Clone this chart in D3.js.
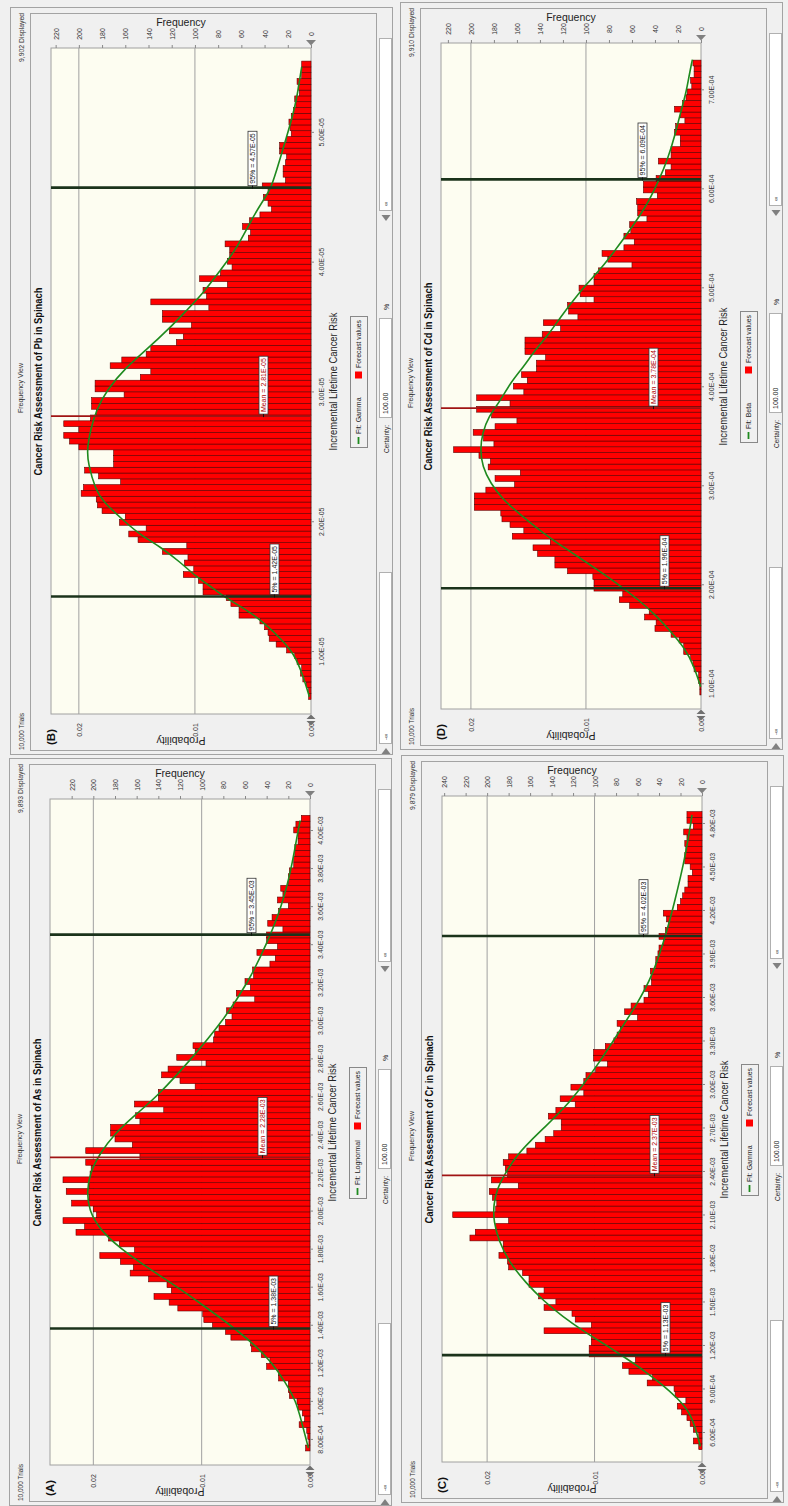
<!DOCTYPE html>
<html><head><meta charset="utf-8">
<script src="https://cdn.jsdelivr.net/npm/d3@7"></script>
<style>
body{margin:0;background:#f0f0f0}
svg{display:block}
text{font-family:"Liberation Sans",Arial,sans-serif}
</style>
</head><body>
<svg id="c" width="788" height="1506"></svg>
<script>
// ---------------- DATA ----------------
// Histogram counts (frequency per bin, low values first)
const countsA = [4,1,2,3,10,5,7,11,12,19,
 20,20,29,29,40,37,45,54,55,73,
 78,90,98,99,122,130,144,128,132,149,
 166,163,175,194,162,176,186,216,208,228,
 197,200,220,204,225,204,228,203,202,207,
 157,207,164,180,184,184,157,161,135,162,
 140,140,106,120,137,131,96,123,106,108,
 89,88,84,78,72,77,71,51,68,55,
 60,52,53,37,32,49,30,40,40,25,
 39,35,29,20,30,25,27,20,20,19,
 15,15,14,14,11,11,15,13,8];
const countsB = [2,2,4,7,9,8,12,14,21,30,
 36,37,40,44,62,62,69,73,93,93,
 97,110,101,109,106,128,107,149,157,142,
 165,160,180,184,185,198,196,164,183,195,
 170,170,170,200,208,213,200,213,190,185,
 189,189,161,186,186,147,138,173,163,142,
 138,116,110,122,103,128,128,88,138,90,
 93,72,96,78,68,72,70,70,74,54,
 52,59,53,44,34,37,41,37,42,22,
 24,24,22,21,27,27,21,17,18,19,
 17,15,13,14,10,11,12,8,8,8];
const countsC = [3,8,3,8,11,14,19,23,15,25,
 26,51,46,68,74,62,105,105,103,103,
 147,103,118,121,147,136,152,147,161,161,
 167,180,181,189,185,185,216,211,192,180,
 232,192,191,195,198,171,196,181,183,185,
 180,163,155,146,138,131,131,143,136,118,
 132,110,122,110,108,99,88,101,101,90,
 82,79,76,79,60,72,66,54,50,54,
 47,47,48,43,43,41,40,36,40,34,
 31,33,36,23,20,18,16,13,13,9,
 11,16,16,15,16,14,17,8,14,14];
const countsD = [1,1,2,2,6,7,9,15,15,19,
 26,40,39,49,45,62,71,68,93,93,
 94,116,127,127,142,146,131,164,154,166,
 173,174,197,197,197,187,162,179,157,185,
 183,193,215,180,189,198,179,160,182,195,
 166,195,154,163,151,156,143,143,135,153,
 153,153,138,122,137,107,115,116,93,105,
 106,93,93,89,60,81,86,67,58,67,
 61,62,47,55,55,56,38,50,50,39,
 31,26,37,26,26,18,18,23,22,14,
 18,23,16,13,12,8,9,6,6,7];

// Bin start and bin width (risk units)
const binA = [7.37e-4, 3.064e-5];
const binB = [6.28e-6, 4.47e-7];
const binC = [4.78e-4, 4.0e-5];
const binD = [8.82e-5, 5.83e-6];

// Fitted curves: [risk, frequency]
const fitA = [[7.53e-4,1.5],[8.95e-4,8],[1.0e-3,13],[1.1e-3,23],[1.2e-3,35],[1.3e-3,52],[1.4e-3,74],[1.5e-3,98],[1.6e-3,123],[1.7e-3,150],[1.8e-3,175],[1.9e-3,194],[2.0e-3,204],[2.1e-3,206],[2.2e-3,203],[2.3e-3,194],[2.4e-3,181],[2.5e-3,162],[2.6e-3,141],[2.8e-3,109],[3.0e-3,80],[3.2e-3,57],[3.4e-3,40],[3.6e-3,26],[3.8e-3,17],[4.0e-3,11],[4.05e-3,9]];
const fitB = [[6.48e-6,1.4],[8.41e-6,8],[9.82e-6,15],[1.085e-5,25],[1.2e-5,38],[1.316e-5,55],[1.406e-5,73],[1.483e-5,84],[1.572e-5,99],[1.688e-5,113],[1.804e-5,130],[1.894e-5,147],[2.009e-5,162],[2.15e-5,179],[2.25e-5,186],[2.446e-5,192],[2.549e-5,193],[2.703e-5,190],[2.857e-5,185],[3.011e-5,176],[3.19e-5,159],[3.319e-5,142],[3.486e-5,122],[3.627e-5,107],[3.756e-5,93],[3.935e-5,78],[4.1e-5,64],[4.346e-5,50],[4.475e-5,41],[4.57e-5,34],[4.783e-5,27],[4.962e-5,21],[5.116e-5,16],[5.27e-5,12],[5.45e-5,9],[5.5e-5,8]];
const fitC = [[5.01e-4,1.5],[6.28e-4,6],[7.43e-4,12],[8.34e-4,23],[9.26e-4,37],[1.019e-3,53],[1.11e-3,71],[1.202e-3,90],[1.294e-3,110],[1.398e-3,130],[1.501e-3,147],[1.628e-3,164],[1.777e-3,180],[1.915e-3,189],[2.053e-3,194],[2.168e-3,194],[2.271e-3,191],[2.374e-3,184],[2.512e-3,172],[2.605e-3,160],[2.705e-3,146],[2.843e-3,127],[2.981e-3,112],[3.143e-3,96],[3.35e-3,78],[3.557e-3,60],[3.74e-3,46.5],[4.016e-3,34],[4.269e-3,25],[4.522e-3,17],[4.706e-3,12.4],[4.855e-3,9.3]];
const fitD = [[0.966e-4,0.3],[1.168e-4,6],[1.336e-4,13],[1.505e-4,25],[1.673e-4,38],[1.841e-4,54],[2.01e-4,73],[2.178e-4,94],[2.347e-4,116],[2.515e-4,137],[2.684e-4,155],[2.852e-4,172],[3.02e-4,183],[3.19e-4,190],[3.36e-4,192],[3.525e-4,190],[3.69e-4,185],[3.86e-4,174],[4.03e-4,166],[4.2e-4,154],[4.37e-4,144],[4.53e-4,132],[4.7e-4,122],[4.87e-4,111],[5.04e-4,99],[5.2e-4,86],[5.37e-4,75],[5.54e-4,64],[5.745e-4,52],[5.88e-4,45],[6.07e-4,37],[6.29e-4,29],[6.56e-4,22],[6.76e-4,18],[6.96e-4,13],[7.16e-4,10],[7.3e-4,7.5]];

// Markers (percentiles and mean)
const markersA = [["5%",1.38e-3],["Mean",2.28e-3],["95%",3.45e-3]];
const markersB = [["5%",1.42e-5],["Mean",2.81e-5],["95%",4.57e-5]];
const markersC = [["5%",1.13e-3],["Mean",2.37e-3],["95%",4.02e-3]];
const markersD = [["5%",1.96e-4],["Mean",3.78e-4],["95%",6.09e-4]];

// Tick values
const xTicksA = [8e-4,1.0e-3,1.2e-3,1.4e-3,1.6e-3,1.8e-3,2.0e-3,2.2e-3,2.4e-3,2.6e-3,2.8e-3,3.0e-3,3.2e-3,3.4e-3,3.6e-3,3.8e-3,4.0e-3];
const xTicksB = [1e-5,2e-5,3e-5,4e-5,5e-5];
const xTicksC = [6e-4,9e-4,1.2e-3,1.5e-3,1.8e-3,2.1e-3,2.4e-3,2.7e-3,3.0e-3,3.3e-3,3.6e-3,3.9e-3,4.2e-3,4.5e-3,4.8e-3];
const xTicksD = [1e-4,2e-4,3e-4,4e-4,5e-4,6e-4,7e-4];
const freqTicks220 = [0,20,40,60,80,100,120,140,160,180,200,220];
const freqTicks240 = [0,20,40,60,80,100,120,140,160,180,200,220,240];
const probTicks = [0,0.01,0.02];

const titles = ["Cancer Risk Assessment of As in Spinach","Cancer Risk Assessment of Pb in Spinach","Cancer Risk Assessment of Cr in Spinach","Cancer Risk Assessment of Cd in Spinach"];
const letters = ["(A)","(B)","(C)","(D)"];
const fitNames = ["Fit: Lognormal","Fit: Gamma","Fit: Gamma","Fit: Beta"];
const displayed = ["9,893 Displayed","9,902 Displayed","9,879 Displayed","9,910 Displayed"];
const trials = 10000;

// ---------------- LAYOUT ----------------
const panels = [
 {i:0, ox:-1, oy:751, dom:[6.63e-4,4.163e-3], fmax:240, counts:countsA, bin:binA, fit:fitA, markers:markersA, xt:xTicksA, ft:freqTicks220},
 {i:1, ox:0, oy:0, dom:[5.15e-6,5.646e-5], fmax:224, counts:countsB, bin:binB, fit:fitB, markers:markersB, xt:xTicksB, ft:freqTicks220},
 {i:2, ox:391, oy:748, dom:[3.93e-4,4.986e-3], fmax:242, counts:countsC, bin:binC, fit:fitC, markers:markersC, xt:xTicksC, ft:freqTicks240},
 {i:3, ox:390, oy:-5, dom:[7.40e-5,7.468e-4], fmax:226, counts:countsD, bin:binD, fit:fitD, markers:markersD, xt:xTicksD, ft:freqTicks220}
];

function fmtE(v){
  const [m,e] = v.toExponential(2).split("e");
  const n = +e;
  return m + "E" + (n<0?"-":"+") + String(Math.abs(n)).padStart(2,"0");
}
function rtext(g, x, y, str, opts){
  opts = opts || {};
  const t = g.append("text")
    .attr("transform", `translate(${x},${y}) rotate(${opts.rot==null?-90:opts.rot})`)
    .attr("text-anchor", opts.anchor||"middle")
    .attr("dominant-baseline","central")
    .attr("font-size", opts.size||7)
    .attr("font-weight", opts.bold?"bold":"normal")
    .attr("fill", opts.fill||"#222")
    .text(str);
  if (opts.len) t.attr("textLength", opts.len).attr("lengthAdjust","spacingAndGlyphs");
  return t;
}

const svg = d3.select("#c");
const L=51, R=311, T=48, B=714;

panels.forEach(p => {
  const g = svg.append("g").attr("transform", `translate(${p.ox},${p.oy})`);
  // frames
  g.append("rect").attr("x",10.5).attr("y",7.5).attr("width",382).attr("height",747)
    .attr("fill","#f0f0f0").attr("stroke","#a3a3a3");
  g.append("rect").attr("x",30.5).attr("y",13.5).attr("width",346).attr("height",737)
    .attr("fill","#f0f0f0").attr("stroke","#a3a3a3");

  const x = d3.scaleLinear().domain([0,p.fmax]).range([R,L]);
  const y = d3.scaleLinear().domain(p.dom).range([B,T]);
  const xp = d3.scaleLinear().domain([0,p.fmax/trials]).range([R,L]);

  // plot area
  g.append("rect").attr("x",L).attr("y",T).attr("width",R-L).attr("height",B-T)
    .attr("fill","#fdfdf1").attr("stroke","#a0a0a0");
  // gridlines
  g.append("g").selectAll("line").data([100,200]).join("line")
    .attr("x1",d=>x(d)).attr("x2",d=>x(d)).attr("y1",T).attr("y2",B)
    .attr("stroke","#a0a0a0").attr("stroke-width",1);

  // bars
  const b0 = p.bin[0], bw = p.bin[1];
  g.append("g").selectAll("rect").data(p.counts).join("rect")
    .attr("x", d=>x(d))
    .attr("width", d=>x(0)-x(d))
    .attr("y", (d,i)=>y(b0+(i+1)*bw))
    .attr("height", (d,i)=>y(b0+i*bw)-y(b0+(i+1)*bw))
    .attr("fill","#ff0000").attr("stroke","#5a0000").attr("stroke-width",0.6);

  // fit curve
  const line = d3.line().x(d=>x(d[1])).y(d=>y(d[0])).curve(d3.curveBasis);
  g.append("path").attr("d", line(p.fit)).attr("fill","none")
    .attr("stroke","#1e8a1e").attr("stroke-width",1.6);

  // marker lines
  const mk = g.append("g");
  p.markers.forEach(([name,v]) => {
    const isMean = name==="Mean";
    mk.append("line").attr("x1",L).attr("x2",R).attr("y1",y(v)).attr("y2",y(v))
      .attr("stroke", isMean?"#a01414":"#1b331b").attr("stroke-width", isMean?1.8:2.6);
  });
  p.markers.forEach(([name,v]) => {
    const isMean = name==="Mean";
    const cx = name==="95%"?252.5:(isMean?263.5:274.5);
    const yy = y(v);
    const bg = mk.append("rect");
    const t = rtext(mk, cx, yy-4, `${name} = ${fmtE(v)}`, {anchor:"start", size:7, fill:isMean?"#b00000":"#111"});
    const len = t.node().getComputedTextLength();
    bg.attr("x",cx-4.5).attr("width",9).attr("y",yy-6-len).attr("height",len+4)
      .attr("fill","#fff").attr("stroke","#333").attr("stroke-width",0.8);
    mk.append("line").attr("x1",cx).attr("x2",cx).attr("y1",yy-2).attr("y2",yy+1)
      .attr("stroke","#111").attr("stroke-width",1);
  });

  // frequency axis (top)
  const fa = g.append("g").attr("transform",`translate(0,${T})`)
    .call(d3.axisTop(x).tickValues(p.ft).tickSize(3).tickFormat(d3.format("d")));
  fa.select(".domain").remove();
  fa.selectAll(".tick line").attr("stroke","#888");
  fa.selectAll(".tick text").attr("y",null).attr("dy",null)
    .attr("transform","translate(0,-14) rotate(-90)")
    .attr("text-anchor","middle").attr("dominant-baseline","central")
    .attr("font-size",7).attr("fill","#333")
    .style("font-family",'"Liberation Sans",Arial,sans-serif');

  // risk axis (right side)
  const va = g.append("g").attr("transform",`translate(${R},0)`)
    .call(d3.axisRight(y).tickValues(p.xt).tickSize(3).tickFormat(fmtE));
  va.select(".domain").remove();
  va.selectAll(".tick line").attr("stroke","#888");
  va.selectAll(".tick text").attr("x",null).attr("dy",null)
    .attr("transform","translate(10,0) rotate(-90)")
    .attr("text-anchor","middle").attr("dominant-baseline","central")
    .attr("font-size",7).attr("fill","#333")
    .style("font-family",'"Liberation Sans",Arial,sans-serif');

  // probability axis (bottom)
  const pa = g.append("g").attr("transform",`translate(0,${B})`)
    .call(d3.axisBottom(xp).tickValues(probTicks).tickSize(0).tickFormat(d3.format(".2f")));
  pa.select(".domain").remove();
  pa.selectAll(".tick text").attr("y",null).attr("dy",null)
    .attr("transform","translate(0,16) rotate(-90)")
    .attr("text-anchor","middle").attr("dominant-baseline","central")
    .attr("font-size",7).attr("fill","#333")
    .style("font-family",'"Liberation Sans",Arial,sans-serif');

  // grabbers
  g.append("path").attr("d",`M${R-5},40 L${R+5},40 L${R},45.5 Z`).attr("fill","#808080");
  g.append("path").attr("d",`M${R-4.5},719 L${R+4.5},719 L${R},714.5 Z M${R-4.5},721 L${R+4.5},721 L${R},725.5 Z`).attr("fill","#707070");

  // axis titles
  g.append("text").attr("x",181).attr("y",22).attr("text-anchor","middle").attr("dominant-baseline","central")
    .attr("font-size",10.5).attr("fill","#222").text("Frequency");
  rtext(g, 181, 741, "Probability", {rot:180, size:10.5});
  rtext(g, 333, 381.5, "Incremental Lifetime Cancer Risk", {size:11, len:138});

  // titles & header
  rtext(g, 37.5, 381.5, titles[p.i], {size:11.5, bold:true, len:188, fill:"#111"});
  rtext(g, 20.5, 388, "Frequency View", {size:7, len:50, fill:"#333"});
  rtext(g, 21, 13, displayed[p.i], {anchor:"end", size:7.5, len:49, fill:"#333"});
  rtext(g, 21, 750, "10,000 Trials", {anchor:"start", size:7.5, len:37, fill:"#333"});
  rtext(g, 51, 737, letters[p.i], {size:11.5, bold:true, fill:"#111"});

  // legend
  g.append("rect").attr("x",350.5).attr("y",316.5).attr("width",17).attr("height",131)
    .attr("fill","none").attr("stroke","#888");
  g.append("line").attr("x1",358.5).attr("x2",358.5).attr("y1",437).attr("y2",444)
    .attr("stroke","#1e8a1e").attr("stroke-width",1.8);
  rtext(g, 358.5, 434, fitNames[p.i], {anchor:"start", size:7});
  g.append("rect").attr("x",355).attr("y",371.5).attr("width",7).attr("height",7).attr("fill","#ff0000");
  rtext(g, 358.5, 368, "Forecast values", {anchor:"start", size:7, len:48});

  // certainty row
  g.append("rect").attr("x",379.5).attr("y",38.5).attr("width",12).attr("height",172)
    .attr("fill","#fff").attr("stroke","#b0b0b0");
  rtext(g, 385.5, 206, "∞", {anchor:"start", size:6, fill:"#333"});
  g.append("path").attr("d","M381.5,215 L390.5,215 L386,221 Z").attr("fill","#808080");
  rtext(g, 386, 307, "%", {size:7});
  g.append("rect").attr("x",379.5).attr("y",318.5).attr("width",12).attr("height",99)
    .attr("fill","#fff").attr("stroke","#b0b0b0");
  rtext(g, 385.5, 414, "100.00", {anchor:"start", size:7});
  rtext(g, 386, 453, "Certainty:", {anchor:"start", size:7, len:28});
  g.append("rect").attr("x",379.5).attr("y",572.5).attr("width",12).attr("height",171)
    .attr("fill","#fff").attr("stroke","#b0b0b0");
  rtext(g, 385.5, 740, "-∞", {anchor:"start", size:6, fill:"#333"});
  g.append("path").attr("d","M381.5,754 L390.5,754 L386,748 Z").attr("fill","#808080");
});
</script>
</body></html>
